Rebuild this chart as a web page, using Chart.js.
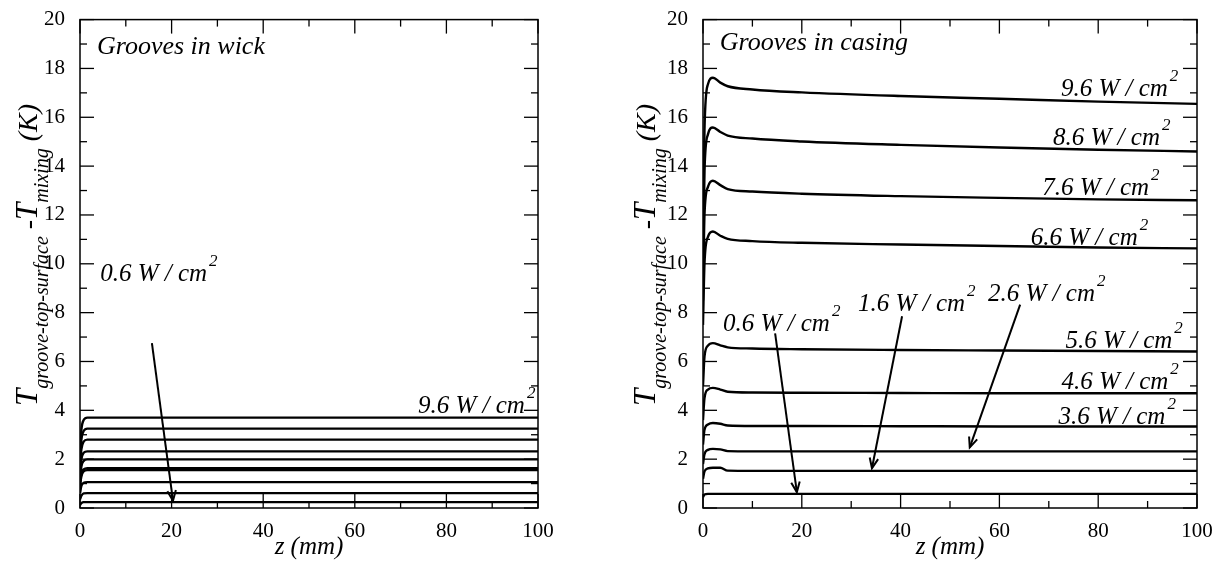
<!DOCTYPE html>
<html>
<head>
<meta charset="utf-8">
<script src="https://cdn.jsdelivr.net/npm/chart.js@4.4.1/dist/chart.umd.min.js"></script>
<style>
  body { margin: 0; background: #fff; }
  canvas { position: absolute; top: 0; }
  #wick { left: 0; }
  #casing { left: 609px; }
</style>
</head>
<body>
<canvas id="wick" width="609" height="562"></canvas>
<canvas id="casing" width="609" height="562"></canvas>
<script>
// heat flux cases (W/cm2)
const fluxes = ['0.6', '1.6', '2.6', '3.6', '4.6', '5.6', '6.6', '7.6', '8.6', '9.6'];

// grooves in wick: z (mm) and temperature difference (K)
const zWick = [0, 0.3, 0.8, 1.6, 100];
const wick06 = [0.12, 0.2, 0.24, 0.24, 0.24];
const wick16 = [0.35, 0.5, 0.6, 0.61, 0.61];
const wick26 = [0.6, 0.9, 1.03, 1.06, 1.06];
const wick36 = [0.9, 1.3, 1.5, 1.55, 1.55];
const wick46 = [0.95, 1.4, 1.58, 1.63, 1.63];
const wick56 = [1.2, 1.7, 1.93, 1.99, 1.99];
const wick66 = [1.4, 2.0, 2.26, 2.32, 2.32];
const wick76 = [1.7, 2.4, 2.72, 2.8, 2.8];
const wick86 = [2.0, 2.8, 3.15, 3.25, 3.25];
const wick96 = [2.3, 3.2, 3.6, 3.7, 3.7];

// grooves in casing
const zCasing = [0, 0.3, 1, 2, 3.5, 5, 10, 20, 40, 60, 80, 100];
const casing06 = [0.45, 0.55, 0.58, 0.58, 0.58, 0.58, 0.58, 0.58, 0.58, 0.58, 0.58, 0.58];
const casing16 = [1.2, 1.5, 1.62, 1.65, 1.65, 1.53, 1.52, 1.52, 1.52, 1.52, 1.52, 1.52];
const casing26 = [1.8, 2.2, 2.38, 2.42, 2.4, 2.33, 2.32, 2.32, 2.32, 2.32, 2.32, 2.32];
const casing36 = [2.6, 3.2, 3.42, 3.48, 3.45, 3.38, 3.36, 3.36, 3.35, 3.34, 3.34, 3.34];
const casing46 = [3.6, 4.5, 4.85, 4.92, 4.85, 4.76, 4.73, 4.72, 4.71, 4.7, 4.7, 4.7];
const casing56 = [5.0, 6.2, 6.65, 6.75, 6.66, 6.58, 6.53, 6.5, 6.47, 6.45, 6.43, 6.41];
const casing66 = [7.5, 10.0, 11.1, 11.32, 11.15, 11.02, 10.93, 10.86, 10.79, 10.73, 10.67, 10.63];
const casing76 = [8.5, 12.0, 13.15, 13.4, 13.22, 13.06, 12.96, 12.87, 12.77, 12.7, 12.64, 12.6];
const casing86 = [9.5, 13.8, 15.3, 15.58, 15.4, 15.25, 15.13, 15.01, 14.87, 14.76, 14.67, 14.6];
const casing96 = [10.5, 15.5, 17.35, 17.62, 17.42, 17.27, 17.14, 17.02, 16.87, 16.76, 16.64, 16.55];

const yTicks = [0, 2, 4, 6, 8, 10, 12, 14, 16, 18, 20];
const xTicks = [0, 20, 40, 60, 80, 100];

const wickSeries = [wick06, wick16, wick26, wick36, wick46, wick56, wick66, wick76, wick86, wick96];
const casingSeries = [casing06, casing16, casing26, casing36, casing46, casing56, casing66, casing76, casing86, casing96];

const serif = "'Liberation Serif', 'Times New Roman', serif";

function makeSets(zs, series, width) {
  return series.map((vals, i) => ({
    label: fluxes[i] + ' W/cm2',
    data: vals.map((v, k) => ({ x: zs[k], y: v })),
    borderColor: '#000',
    borderWidth: width,
    pointRadius: 0,
    cubicInterpolationMode: 'monotone',
    fill: false
  }));
}

function drawLine(ctx, x1, y1, x2, y2) {
  ctx.beginPath();
  ctx.moveTo(x1, y1);
  ctx.lineTo(x2, y2);
  ctx.stroke();
}

const framePlugin = {
  id: 'frame',
  afterDraw(chart, args, opts) {
    const { ctx, chartArea: a, scales: { x, y } } = chart;
    ctx.save();
    ctx.strokeStyle = '#000';
    ctx.fillStyle = '#000';
    ctx.lineWidth = 1.5;
    ctx.strokeRect(a.left, a.top, a.right - a.left, a.bottom - a.top);

    // inward ticks on all four sides
    ctx.lineWidth = 1.3;
    for (let v = 0; v <= 20; v++) {
      const py = y.getPixelForValue(v);
      const len = v % 2 === 0 ? 14 : 7;
      drawLine(ctx, a.left, py, a.left + len, py);
      drawLine(ctx, a.right, py, a.right - len, py);
    }
    for (let v = 0; v <= 100; v += 10) {
      const px = x.getPixelForValue(v);
      const len = v % 20 === 0 ? 14 : 7;
      drawLine(ctx, px, a.bottom, px, a.bottom - len);
      drawLine(ctx, px, a.top, px, a.top + len);
    }

    // y axis title with subscripts, rotated
    ctx.save();
    ctx.translate(opts.titleX, opts.titleY);
    ctx.rotate(-Math.PI / 2);
    ctx.textBaseline = 'alphabetic';
    ctx.textAlign = 'left';
    const parts = [
      { t: 'T', f: 'italic 31px ' + serif, dy: 0 },
      { t: 'groove-top-surface', f: 'italic 20px ' + serif, dy: 11 },
      { t: ' -', f: 'italic 28px ' + serif, dy: 0 },
      { t: 'T', f: 'italic 31px ' + serif, dy: 0 },
      { t: 'mixing', f: 'italic 20px ' + serif, dy: 11 },
      { t: ' (K)', f: 'italic 28px ' + serif, dy: 0 }
    ];
    let cx = 0;
    parts.forEach(p => {
      ctx.font = p.f;
      ctx.fillText(p.t, cx, p.dy);
      cx += ctx.measureText(p.t).width;
    });
    ctx.restore();

    // panel title
    ctx.font = 'italic 26px ' + serif;
    ctx.textAlign = 'left';
    ctx.fillText(opts.panel.text, x.getPixelForValue(opts.panel.z), y.getPixelForValue(opts.panel.v));

    // flux labels
    (opts.labels || []).forEach(l => {
      ctx.font = 'italic 25px ' + serif;
      const txt = l.text + ' W / cm';
      const w = ctx.measureText(txt).width;
      let px = x.getPixelForValue(l.z);
      const py = y.getPixelForValue(l.v);
      if (l.align === 'right') px -= w;
      ctx.textAlign = 'left';
      ctx.fillText(txt, px, py);
      ctx.font = 'italic 17px ' + serif;
      ctx.fillText('2', px + w + 2, py - 15);
    });

    // arrows
    ctx.lineWidth = 2;
    (opts.arrows || []).forEach(ar => {
      const x1 = x.getPixelForValue(ar.z1), y1 = y.getPixelForValue(ar.v1);
      const x2 = x.getPixelForValue(ar.z2), y2 = y.getPixelForValue(ar.v2);
      drawLine(ctx, x1, y1, x2, y2);
      const ang = Math.atan2(y2 - y1, x2 - x1);
      const hl = 11, hw = 0.4;
      ctx.beginPath();
      ctx.moveTo(x2 - hl * Math.cos(ang - hw), y2 - hl * Math.sin(ang - hw));
      ctx.lineTo(x2, y2);
      ctx.lineTo(x2 - hl * Math.cos(ang + hw), y2 - hl * Math.sin(ang + hw));
      ctx.stroke();
    });
    ctx.restore();
  }
};

function makeOptions(yWidth, padRight, frameOpts) {
  return {
    responsive: false,
    animation: false,
    layout: { padding: { top: 16, right: padRight, bottom: 0, left: 0 } },
    plugins: {
      legend: { display: false },
      tooltip: { enabled: false },
      frame: frameOpts
    },
    scales: {
      x: {
        type: 'linear',
        min: 0,
        max: 100,
        afterBuildTicks: s => { s.ticks = xTicks.map(v => ({ value: v })); },
        afterFit: s => { s.height = 54; },
        grid: { display: false },
        border: { display: false },
        ticks: { color: '#000', padding: 3, maxRotation: 0, font: { family: serif, size: 21 } },
        title: {
          display: true,
          text: 'z (mm)',
          color: '#000',
          padding: { top: 0, bottom: 0 },
          font: { family: serif, size: 25, style: 'italic' }
        }
      },
      y: {
        type: 'linear',
        min: 0,
        max: 20,
        afterBuildTicks: s => { s.ticks = yTicks.map(v => ({ value: v })); },
        afterFit: s => { s.width = yWidth; },
        grid: { display: false },
        border: { display: false },
        ticks: { color: '#000', padding: 7, font: { family: serif, size: 21 } }
      }
    }
  };
}

new Chart(document.getElementById('wick'), {
  type: 'line',
  data: { datasets: makeSets(zWick, wickSeries, 2.4) },
  options: makeOptions(80, 71, {
    titleX: 37,
    titleY: 406,
    panel: { text: 'Grooves in wick', z: 3.7, v: 18.6 },
    labels: [
      { text: '0.6', z: 4.4, v: 9.3 },
      { text: '9.6', z: 73.8, v: 3.9 }
    ],
    arrows: [
      { z1: 15.7, v1: 6.75, z2: 20.3, v2: 0.3 }
    ]
  }),
  plugins: [framePlugin]
});

new Chart(document.getElementById('casing'), {
  type: 'line',
  data: { datasets: makeSets(zCasing, casingSeries, 2.4) },
  options: makeOptions(94, 21, {
    titleX: 46,
    titleY: 406,
    panel: { text: 'Grooves in casing', z: 3.4, v: 18.74 },
    labels: [
      { text: '9.6', z: 94.1, v: 16.87, align: 'right' },
      { text: '8.6', z: 92.5, v: 14.88, align: 'right' },
      { text: '7.6', z: 90.3, v: 12.8, align: 'right' },
      { text: '6.6', z: 88.0, v: 10.77, align: 'right' },
      { text: '5.6', z: 95.0, v: 6.54, align: 'right' },
      { text: '4.6', z: 94.2, v: 4.88, align: 'right' },
      { text: '3.6', z: 93.6, v: 3.46, align: 'right' },
      { text: '0.6', z: 4.05, v: 7.24 },
      { text: '1.6', z: 31.4, v: 8.05 },
      { text: '2.6', z: 57.7, v: 8.46 }
    ],
    arrows: [
      { z1: 14.6, v1: 7.15, z2: 19.0, v2: 0.65 },
      { z1: 40.3, v1: 7.85, z2: 34.2, v2: 1.63 },
      { z1: 64.2, v1: 8.33, z2: 54.0, v2: 2.48 }
    ]
  }),
  plugins: [framePlugin]
});
</script>
</body>
</html>
